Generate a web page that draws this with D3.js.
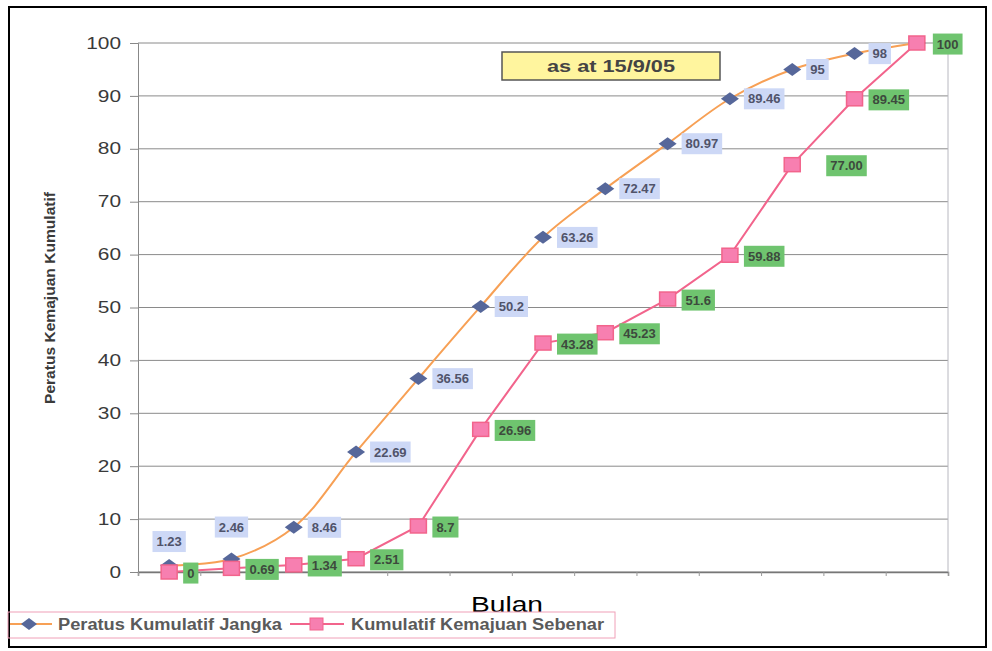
<!DOCTYPE html>
<html>
<head>
<meta charset="utf-8">
<script src="https://cdn.jsdelivr.net/npm/d3@7"></script>
<style>
  body { margin: 0; background: #fff; }
  svg { font-family: "Liberation Sans", Arial, sans-serif; }
</style>
</head>
<body>
<svg id="chart" width="992" height="651"></svg>
<script>
// months 1..13 (category labels are blank on the original)
const months = [1, 2, 3, 4, 5, 6, 7, 8, 9, 10, 11, 12, 13];
const jangka = [1.23, 2.46, 8.46, 22.69, 36.56, 50.2, 63.26, 72.47, 80.97, 89.46, 95, 98, 100];
const sebenar = [0, 0.69, 1.34, 2.51, 8.7, 26.96, 43.28, 45.23, 51.6, 59.88, 77.0, 89.45, 100];
const jangkaLabels = ["1.23", "2.46", "8.46", "22.69", "36.56", "50.2", "63.26", "72.47", "80.97", "89.46", "95", "98", ""];
const sebenarLabels = ["0", "0.69", "1.34", "2.51", "8.7", "26.96", "43.28", "45.23", "51.6", "59.88", "77.00", "89.45", "100"];
const yTicks = [0, 10, 20, 30, 40, 50, 60, 70, 80, 90, 100];

var svg = d3.select("#chart"),
  width = +svg.attr("width"),
  height = +svg.attr("height");

const margin = { left: 138, right: 44, top: 43, bottom: 79 };
const plotW = width - margin.left - margin.right;
const plotH = height - margin.top - margin.bottom;

// outer frame
svg.append("rect")
  .attr("x", 9).attr("y", 7)
  .attr("width", 977).attr("height", 640)
  .attr("fill", "none")
  .attr("stroke", "#000")
  .attr("stroke-width", 2);

const g = svg.append("g").attr("transform", `translate(${margin.left},${margin.top})`);

const x = d3.scaleLinear().domain([0, months.length]).range([0, plotW]);
const y = d3.scaleLinear().domain([0, 100]).range([plotH, 0]);
const px = (i) => x(i + 0.5);

// gridlines
g.append("g")
  .selectAll("line")
  .data(yTicks)
  .enter()
  .append("line")
  .attr("x1", 0)
  .attr("x2", plotW)
  .attr("y1", (d) => y(d))
  .attr("y2", (d) => y(d))
  .attr("stroke", "#8a8a8a")
  .attr("stroke-width", 1);

// right edge of plot
g.append("line")
  .attr("x1", plotW).attr("x2", plotW)
  .attr("y1", 0).attr("y2", plotH)
  .attr("stroke", "#b8b8c0");

// y axis
const yAxis = g.append("g")
  .call(d3.axisLeft(y).tickValues(yTicks).tickSize(8).tickPadding(9));
yAxis.select(".domain").attr("stroke", "#888");
yAxis.selectAll(".tick line").attr("stroke", "#888");
yAxis.selectAll(".tick text")
  .attr("font-size", 16)
  .attr("fill", "#3a3a3a")
  .attr("font-family", "Liberation Sans, Arial, sans-serif")
  .attr("textLength", (d) => String(d).length * 11.6)
  .attr("lengthAdjust", "spacingAndGlyphs");

// x axis, ticks between categories, no labels
const xAxis = g.append("g")
  .attr("transform", `translate(0,${plotH})`)
  .call(d3.axisBottom(x).ticks(months.length).tickSize(4).tickFormat(""));
xAxis.select(".domain").attr("stroke", "#777").attr("stroke-width", 1.5);
xAxis.selectAll(".tick line").attr("stroke", "#999");

// lines
const lineJ = d3.line()
  .x((d, i) => px(i))
  .y((d) => y(d))
  .curve(d3.curveCatmullRom.alpha(0.5));
const lineS = d3.line()
  .x((d, i) => px(i))
  .y((d) => y(d));

g.append("path")
  .datum(jangka)
  .attr("d", lineJ)
  .attr("fill", "none")
  .attr("stroke", "#f7a055")
  .attr("stroke-width", 2);

g.append("path")
  .datum(sebenar)
  .attr("d", lineS)
  .attr("fill", "none")
  .attr("stroke", "#f2648c")
  .attr("stroke-width", 2);

// markers
g.append("g")
  .selectAll("path")
  .data(jangka)
  .enter()
  .append("path")
  .attr("d", "M-9,0 L0,-6.5 L9,0 L0,6.5 Z")
  .attr("transform", (d, i) => `translate(${px(i)},${y(d)})`)
  .attr("fill", "#56679a");

g.append("g")
  .selectAll("rect")
  .data(sebenar)
  .enter()
  .append("rect")
  .attr("x", (d, i) => px(i) - 8)
  .attr("y", (d) => y(d) - 7)
  .attr("width", 16)
  .attr("height", 14)
  .attr("fill", "#f77fb0")
  .attr("stroke", "#f2648c")
  .attr("stroke-width", 1.5);

// data labels with boxes
function addLabel(tx, ty, text, bg, color, anchor) {
  const lg = g.append("g");
  const t = lg.append("text")
    .attr("x", tx)
    .attr("y", ty)
    .attr("dy", "0.35em")
    .attr("text-anchor", anchor || "start")
    .attr("font-size", 13)
    .attr("font-weight", "bold")
    .attr("fill", color)
    .text(text);
  const bb = t.node().getBBox();
  lg.insert("rect", "text")
    .attr("x", bb.x - 4)
    .attr("y", bb.y - 3)
    .attr("width", bb.width + 8)
    .attr("height", bb.height + 6)
    .attr("fill", bg);
}

jangka.forEach((d, i) => {
  if (!jangkaLabels[i]) return;
  if (i === 0) addLabel(px(i), y(d) - 24, jangkaLabels[i], "#cdd8f6", "#50536a", "middle");
  else if (i === 1) addLabel(px(i), y(d) - 32, jangkaLabels[i], "#cdd8f6", "#50536a", "middle");
  else addLabel(px(i) + 18, y(d), jangkaLabels[i], "#cdd8f6", "#50536a");
});

sebenar.forEach((d, i) => {
  let dx = 18, dy = 1;
  if (i === 10) dx = 38;
  if (i === 12) dx = 20;
  addLabel(px(i) + dx, y(d) + dy, sebenarLabels[i], "#6fc46f", "#3d4a3d");
});

// title box
svg.append("rect")
  .attr("x", 502).attr("y", 52)
  .attr("width", 218).attr("height", 28)
  .attr("fill", "#fff59e")
  .attr("stroke", "#555")
  .attr("stroke-width", 1.5);
svg.append("text")
  .attr("x", 611).attr("y", 66)
  .attr("dy", "0.35em")
  .attr("text-anchor", "middle")
  .attr("font-size", 17)
  .attr("font-weight", "bold")
  .attr("fill", "#444")
  .attr("textLength", 128)
  .attr("lengthAdjust", "spacingAndGlyphs")
  .text("as at 15/9/05");

// y axis title
svg.append("text")
  .attr("transform", "translate(55,298) rotate(-90)")
  .attr("text-anchor", "middle")
  .attr("font-size", 15)
  .attr("font-weight", "bold")
  .attr("fill", "#3a3a3a")
  .attr("textLength", 212)
  .attr("lengthAdjust", "spacingAndGlyphs")
  .text("Peratus Kemajuan Kumulatif");

// x axis title
svg.append("text")
  .attr("x", 507).attr("y", 612)
  .attr("text-anchor", "middle")
  .attr("font-size", 22)
  .attr("fill", "#000")
  .attr("textLength", 72)
  .attr("lengthAdjust", "spacingAndGlyphs")
  .text("Bulan");

// legend
const leg = svg.append("g");
leg.append("rect")
  .attr("x", 8).attr("y", 612)
  .attr("width", 607).attr("height", 26)
  .attr("fill", "none")
  .attr("stroke", "#f0a0b8")
  .attr("stroke-width", 1);
leg.append("line")
  .attr("x1", 10).attr("x2", 52).attr("y1", 624).attr("y2", 624)
  .attr("stroke", "#f7a055").attr("stroke-width", 2);
leg.append("path")
  .attr("d", "M-8,0 L0,-6 L8,0 L0,6 Z")
  .attr("transform", "translate(29,624)")
  .attr("fill", "#56679a");
leg.append("text")
  .attr("x", 58).attr("y", 624).attr("dy", "0.35em")
  .attr("font-size", 16).attr("font-weight", "bold").attr("fill", "#5a5a5a")
  .attr("textLength", 224)
  .attr("lengthAdjust", "spacingAndGlyphs")
  .text("Peratus Kumulatif Jangka");
leg.append("line")
  .attr("x1", 290).attr("x2", 344).attr("y1", 624).attr("y2", 624)
  .attr("stroke", "#f2648c").attr("stroke-width", 2);
leg.append("rect")
  .attr("x", 310).attr("y", 618).attr("width", 13).attr("height", 12)
  .attr("fill", "#f77fb0").attr("stroke", "#f2648c");
leg.append("text")
  .attr("x", 351).attr("y", 624).attr("dy", "0.35em")
  .attr("font-size", 16).attr("font-weight", "bold").attr("fill", "#5a5a5a")
  .attr("textLength", 253)
  .attr("lengthAdjust", "spacingAndGlyphs")
  .text("Kumulatif Kemajuan Sebenar");
</script>
</body>
</html>
